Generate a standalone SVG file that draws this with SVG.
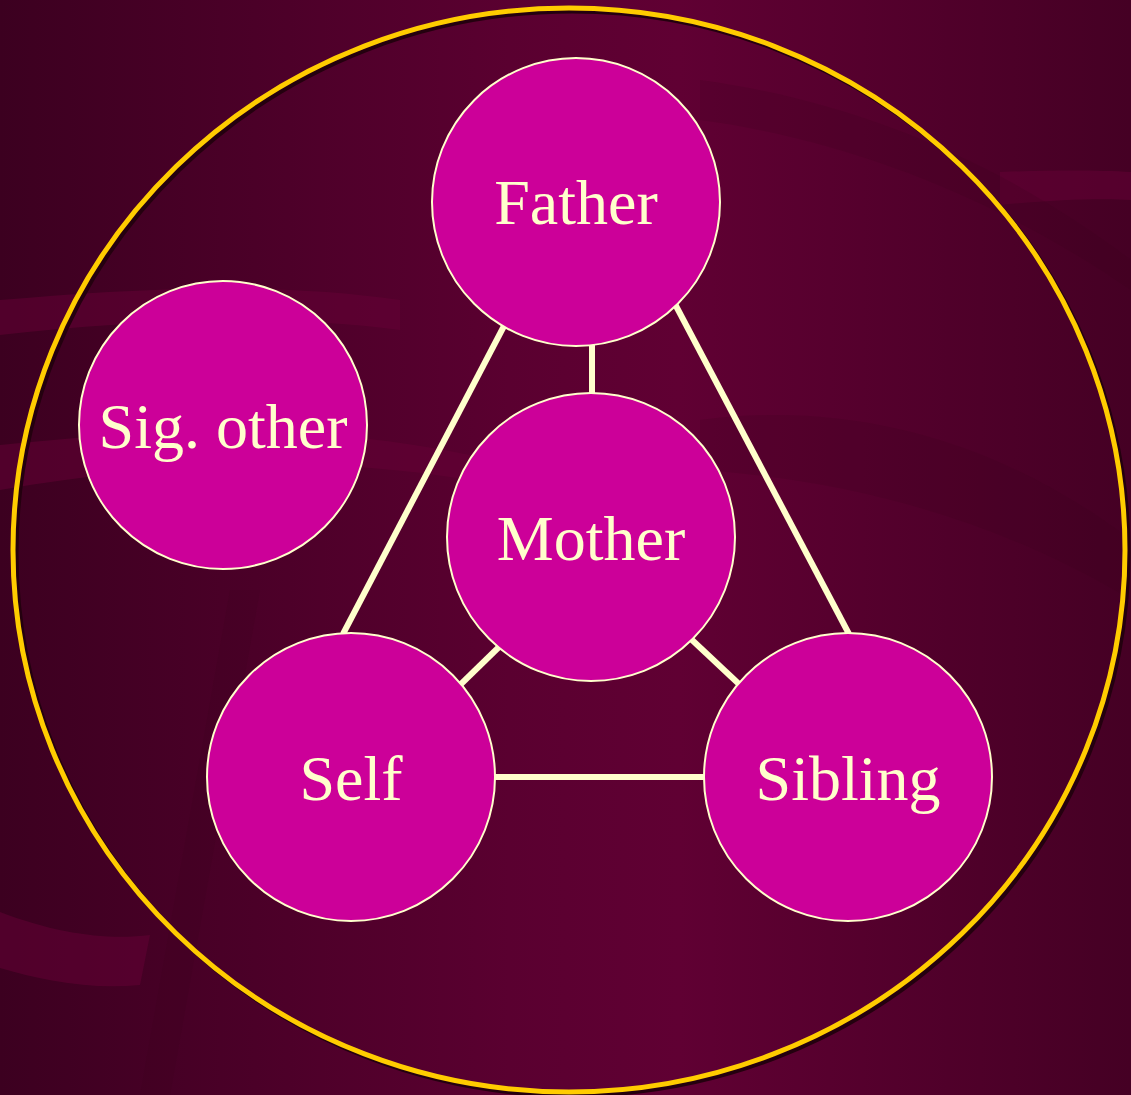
<svg xmlns="http://www.w3.org/2000/svg" width="1131" height="1095" viewBox="0 0 1131 1095">
<defs>
<linearGradient id="bg" x1="0" y1="0" x2="1" y2="0">
<stop offset="0" stop-color="#3c0020"/>
<stop offset="0.45" stop-color="#5a0030"/>
<stop offset="0.6" stop-color="#600033"/>
<stop offset="1" stop-color="#450024"/>
</linearGradient>
<style>
.node circle{fill:#CC0099;stroke:#FFFFCC;stroke-width:2}
.node text{fill:#FFFFCC;font-family:"Liberation Serif","Times New Roman",serif;font-size:64px;text-anchor:middle}
.edge{stroke:#FFFFCC;stroke-width:6;fill:none}
.swirl{fill:#660035;opacity:0.5}
.swirl2{fill:#3a001e;opacity:0.2}
</style>
</defs>
<rect width="1131" height="1095" fill="url(#bg)"/>
<g id="background-swirls">
<path class="swirl" d="M0,300 C120,290 260,280 400,300 L400,330 C260,312 120,322 0,335 Z"/>
<path class="swirl" d="M0,445 C150,430 300,420 470,455 L470,480 C300,452 150,465 0,490 Z"/>
<path class="swirl" d="M0,912 C60,935 110,940 150,935 L140,985 C90,990 40,980 0,968 Z"/>
<path class="swirl" d="M1000,172 C1050,170 1100,170 1131,172 L1131,200 C1100,198 1050,200 1000,205 Z"/>
<path class="swirl2" d="M700,80 C850,100 1000,160 1131,260 L1131,290 C1000,200 850,140 700,120 Z"/>
<path class="swirl2" d="M700,420 C850,400 1000,440 1131,540 L1131,600 C1000,520 850,480 700,470 Z"/>
<path class="swirl2" d="M140,1095 L230,590 L260,590 L170,1095 Z"/>
</g>
<g id="frame">
<ellipse cx="572" cy="553" rx="556" ry="542" fill="none" stroke="#24000f" stroke-width="5"/>
<ellipse cx="569" cy="550" rx="556" ry="542" fill="none" stroke="#FFCC00" stroke-width="5"/>
</g>
<g id="connectors">
<line class="edge" x1="592" y1="344" x2="592" y2="395"/>
<line class="edge" x1="504" y1="326" x2="343" y2="634"/>
<line class="edge" x1="675" y1="304" x2="849" y2="634"/>
<line class="edge" x1="499" y1="647" x2="460" y2="685"/>
<line class="edge" x1="691" y1="639" x2="740" y2="685"/>
<line class="edge" x1="494" y1="777" x2="705" y2="777"/>
</g>
<g id="node-father" class="node">
<circle cx="576" cy="202" r="144"/>
<text x="576" y="224">Father</text>
</g>
<g id="node-sigother" class="node">
<circle cx="223" cy="425" r="144"/>
<text x="223" y="448">Sig. other</text>
</g>
<g id="node-mother" class="node">
<circle cx="591" cy="537" r="144"/>
<text x="591" y="560">Mother</text>
</g>
<g id="node-self" class="node">
<circle cx="351" cy="777" r="144"/>
<text x="351" y="800">Self</text>
</g>
<g id="node-sibling" class="node">
<circle cx="848" cy="777" r="144"/>
<text x="848" y="800">Sibling</text>
</g>
</svg>
